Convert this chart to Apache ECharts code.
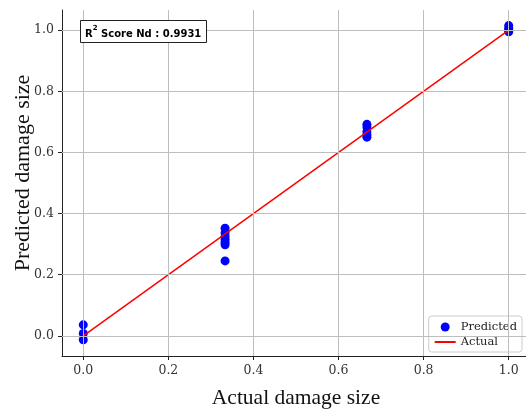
<!DOCTYPE html>
<html>
<head>
<meta charset="utf-8">
<script src="https://cdn.jsdelivr.net/npm/echarts@6/dist/echarts.min.js"></script>
<style>
 html, body { margin: 0; padding: 0; background: #fff; }
 #chart { width: 526px; height: 412px; }
</style>
</head>
<body>
<div id="chart"></div>
<script>
// scatter of predicted vs actual damage size
const actualX = [0, 0, 0,
 0.3333, 0.3333, 0.3333, 0.3333, 0.3333, 0.3333, 0.3333,
 0.6667, 0.6667, 0.6667, 0.6667, 0.6667,
 1, 1, 1, 1]
const predictedY = [0.036, 0.008, -0.013,
 0.352, 0.337, 0.325, 0.315, 0.306, 0.298, 0.245,
 0.692, 0.683, 0.668, 0.657, 0.650,
 1.015, 1.006, 1.0, 0.995]
const idealLine = [[0, 0], [1, 1]]
const xTicks = [0, 0.2, 0.4, 0.6, 0.8, 1.0]
const yTicks = [0, 0.2, 0.4, 0.6, 0.8, 1.0]
const scoreText = '0.9931'

const chart = echarts.init(document.getElementById('chart'))

const serif = 'DejaVu Serif'
const titleFont = 'Liberation Serif'

const option = {
 animation: false,
 backgroundColor: '#fff',
 title: {
 text: '{b|R}{s|2}{b| Score Nd : ' + scoreText + '}',
 left: 80,
 top: 20,
 padding: [5, 5, 4, 5],
 borderColor: '#222',
 borderWidth: 1,
 backgroundColor: '#fff',
 textStyle: {
 rich: {
 b: { fontFamily: 'DejaVu Sans', fontWeight: 'bold', fontSize: 10, color: '#000', verticalAlign: 'bottom', lineHeight: 14 },
 s: { fontFamily: 'DejaVu Sans', fontWeight: 'bold', fontSize: 7, color: '#000', verticalAlign: 'top', lineHeight: 14, padding: [0, 0, 6, 0] },
 },
 },
 },
 legend: {
 orient: 'vertical',
 right: 4,
 bottom: 60,
 padding: [5, 5, 4, 5],
 itemGap: 3,
 itemWidth: 21,
 itemHeight: 9,
 backgroundColor: '#fff',
 borderColor: '#ccc',
 borderWidth: 1,
 borderRadius: 3,
 textStyle: { fontFamily: serif, fontSize: 11.5, color: '#222' },
 data: [
 { name: 'Predicted', icon: 'circle' },
 { name: 'Actual', itemStyle: { opacity: 0 } },
 ],
 },
 grid: {
 left: 62,
 top: 10,
 width: 468,
 bottom: 56,
 containLabel: false,
 outerBoundsMode: 'none',
 },
 xAxis: {
 type: 'value',
 min: -0.05,
 max: 1.05,
 name: 'Actual damage size',
 nameLocation: 'middle',
 nameGap: 31,
 nameMoveOverlap: false,
 nameTextStyle: { fontFamily: titleFont, fontSize: 21.5, color: '#111' },
 axisLine: { show: true, onZero: false, lineStyle: { color: '#222', width: 1 } },
 axisTick: { show: true, length: 4, customValues: xTicks, lineStyle: { color: '#222' } },
 axisLabel: {
 customValues: xTicks,
 formatter: v => v.toFixed(1),
 fontFamily: serif, fontSize: 12.5, color: '#333', margin: 8,
 },
 splitLine: { show: false },
 },
 yAxis: {
 type: 'value',
 min: -0.066,
 max: 1.066,
 name: 'Predicted damage size',
 nameLocation: 'middle',
 nameGap: 28,
 nameMoveOverlap: false,
 nameTextStyle: { fontFamily: titleFont, fontSize: 22, color: '#111', padding: [0, 0, 0, 20] },
 axisLine: { show: true, onZero: false, lineStyle: { color: '#222', width: 1 } },
 axisTick: { show: true, length: 4, customValues: yTicks, lineStyle: { color: '#222' } },
 axisLabel: {
 customValues: yTicks,
 formatter: v => v.toFixed(1),
 fontFamily: serif, fontSize: 12.5, color: '#333', margin: 8,
 },
 splitLine: { show: false },
 },
 series: [
 {
 // grid lines at tick positions
 name: 'grid',
 type: 'line',
 data: [],
 silent: true,
 z: 1,
 markLine: {
 silent: true,
 symbol: 'none',
 label: { show: false },
 lineStyle: { color: '#bdbdbd', width: 1, type: 'solid' },
 data: xTicks.map(v => ({ xAxis: v })).concat(yTicks.map(v => ({ yAxis: v }))),
 },
 },
 {
 name: 'Predicted',
 type: 'scatter',
 data: actualX.map((x, i) => [x, predictedY[i]]),
 symbolSize: 9,
 itemStyle: { color: '#0000ff', opacity: 1 },
 z: 3,
 },
 {
 name: 'Actual',
 type: 'line',
 data: idealLine,
 symbol: 'none',
 lineStyle: { color: '#ff0000', width: 1.5 },
 itemStyle: { color: '#ff0000' },
 z: 4,
 },
 ],
}

chart.setOption(option)
window.addEventListener('resize', () => chart.resize())
</script>
</body>
</html>
